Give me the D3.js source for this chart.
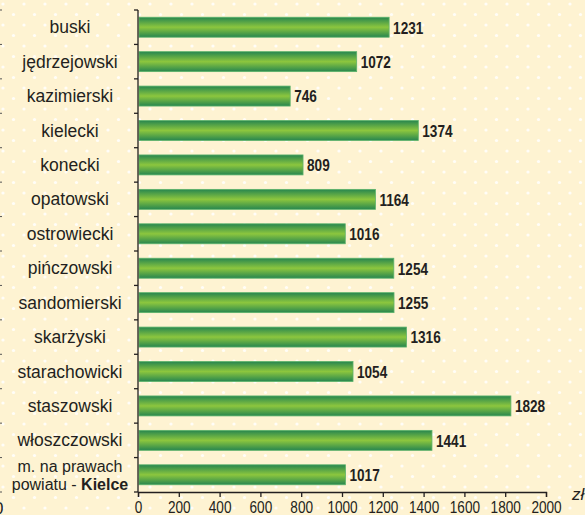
<!DOCTYPE html>
<html>
<head>
<meta charset="utf-8">
<script src="https://cdn.jsdelivr.net/npm/d3@7"></script>
<style>
  body { margin: 0; background: #fef3d2; }
  svg { display: block; }
</style>
</head>
<body>
<div id="chart"></div>
<script>
// data
var powiaty = ["buski", "jędrzejowski", "kazimierski", "kielecki", "konecki", "opatowski",
  "ostrowiecki", "pińczowski", "sandomierski", "skarżyski", "starachowicki",
  "staszowski", "włoszczowski", "m. na prawach powiatu - Kielce"];
var wartosci = [1231, 1072, 746, 1374, 809, 1164, 1016, 1254, 1255, 1316, 1054, 1828, 1441, 1017];
var ticks = [0, 200, 400, 600, 800, 1000, 1200, 1400, 1600, 1800, 2000];

var width = 585;
var height = 515;
var margin = { top: 10, left: 138, right: 39, bottom: 23 };

var svg = d3.select("#chart")
  .append("svg")
  .attr("width", width)
  .attr("height", height);

var defs = svg.append("defs");

// dotted background
var pat = defs.append("pattern")
  .attr("id", "dots")
  .attr("width", 21)
  .attr("height", 21)
  .attr("patternUnits", "userSpaceOnUse");
pat.append("rect").attr("width", 21).attr("height", 21).attr("fill", "#fef3d2");
pat.append("circle").attr("cx", 3).attr("cy", 4).attr("r", 1.6).attr("fill", "#ffffff").attr("opacity", 0.85);
pat.append("circle").attr("cx", 13.5).attr("cy", 14.5).attr("r", 1.6).attr("fill", "#ffffff").attr("opacity", 0.85);

svg.append("rect")
  .attr("width", width)
  .attr("height", height)
  .attr("fill", "url(#dots)");

// bar gradient
var grad = defs.append("linearGradient")
  .attr("id", "barGrad")
  .attr("x1", 0).attr("y1", 0).attr("x2", 0).attr("y2", 1);
grad.append("stop").attr("offset", "0%").attr("stop-color", "#27864f");
grad.append("stop").attr("offset", "50%").attr("stop-color", "#8cc63e");
grad.append("stop").attr("offset", "100%").attr("stop-color", "#27864f");

var x = d3.scaleLinear()
  .domain([0, 2000])
  .range([margin.left, 546]);

var y = d3.scaleBand()
  .domain(powiaty)
  .range([margin.top, height - margin.bottom])
  .paddingInner(0.42)
  .paddingOuter(0.21);

var bottomY = height - margin.bottom;
var step = y.step();
var narrow = 0.8; // condensed look of the numbers

// bars
svg.selectAll(".bar")
  .data(wartosci)
  .enter().append("rect")
  .attr("class", "bar")
  .attr("x", x(0) + 1)
  .attr("y", function(d, i) { return y(powiaty[i]); })
  .attr("width", function(d) { return x(d) - x(0) - 1; })
  .attr("height", y.bandwidth())
  .attr("fill", "url(#barGrad)")
  .attr("stroke", "#5db36a")
  .attr("stroke-width", 0.8);

// value labels
svg.selectAll(".val")
  .data(wartosci)
  .enter().append("text")
  .attr("class", "val")
  .attr("transform", function(d, i) {
    return "translate(" + (x(d) + 4) + "," + (y(powiaty[i]) + y.bandwidth() / 2) + ") scale(" + narrow + ",1)";
  })
  .attr("dy", "0.37em")
  .style("font-family", "'Liberation Sans', Arial, sans-serif")
  .style("font-weight", "bold")
  .style("font-size", "17px")
  .style("fill", "#231f20")
  .text(function(d) { return d; });

// y axis line with separators
var axisColor = "#231f20";
svg.append("line")
  .attr("x1", x(0)).attr("x2", x(0))
  .attr("y1", margin.top).attr("y2", bottomY)
  .attr("stroke", axisColor).attr("stroke-width", 1.3);
d3.range(powiaty.length + 1).forEach(function(i) {
  var yy = margin.top + i * step;
  svg.append("line")
    .attr("x1", x(0) - 4).attr("x2", x(0))
    .attr("y1", yy).attr("y2", yy)
    .attr("stroke", axisColor).attr("stroke-width", 1.3);
  // remnants of a neighbouring chart at the left edge
  svg.append("line")
    .attr("x1", 0).attr("x2", 2)
    .attr("y1", yy).attr("y2", yy)
    .attr("stroke", "#555").attr("stroke-width", 1);
});

// x axis
var xAxis = d3.axisBottom(x)
  .tickValues(ticks)
  .tickFormat(d3.format("d"))
  .tickSize(5)
  .tickPadding(4);
var gx = svg.append("g")
  .attr("transform", "translate(0," + bottomY + ")")
  .call(xAxis);
gx.select(".domain").attr("stroke", axisColor).attr("stroke-width", 1.3);
gx.selectAll(".tick line").attr("stroke", axisColor).attr("stroke-width", 1.3);
gx.selectAll(".tick text")
  .attr("transform", "scale(" + narrow + ",1)")
  .style("font-family", "'Liberation Sans', Arial, sans-serif")
  .style("font-size", "17px")
  .style("fill", "#231f20");

svg.append("text")
  .attr("x", 572)
  .attr("y", 500)
  .style("font-family", "'Liberation Sans', Arial, sans-serif")
  .style("font-style", "italic")
  .style("font-size", "17px")
  .style("fill", "#231f20")
  .text("zł");

svg.append("text")
  .attr("x", -6)
  .attr("y", 514)
  .style("font-family", "'Liberation Sans', sans-serif")
  .style("font-size", "17px")
  .style("fill", "#231f20")
  .text("0");

// category labels
var labelX = 70;
var labelFont = function(sel, size) {
  return sel.attr("text-anchor", "middle")
    .style("font-family", "'Liberation Sans', Arial, sans-serif")
    .style("font-size", (size || 17.5) + "px")
    .style("fill", "#231f20");
};
powiaty.forEach(function(name, i) {
  var cy = y(name) + y.bandwidth() / 2;
  if (i === powiaty.length - 1) {
    svg.append("text").call(labelFont, 16)
      .attr("x", labelX).attr("y", cy - 3)
      .text("m. na prawach");
    var t2 = svg.append("text").call(labelFont, 16)
      .attr("x", labelX).attr("y", cy + 15);
    t2.append("tspan").text("powiatu - ");
    t2.append("tspan").style("font-weight", "bold").text("Kielce");
  } else {
    svg.append("text").call(labelFont)
      .attr("x", labelX).attr("y", cy).attr("dy", "0.35em")
      .text(name);
  }
});
</script>
</body>
</html>
